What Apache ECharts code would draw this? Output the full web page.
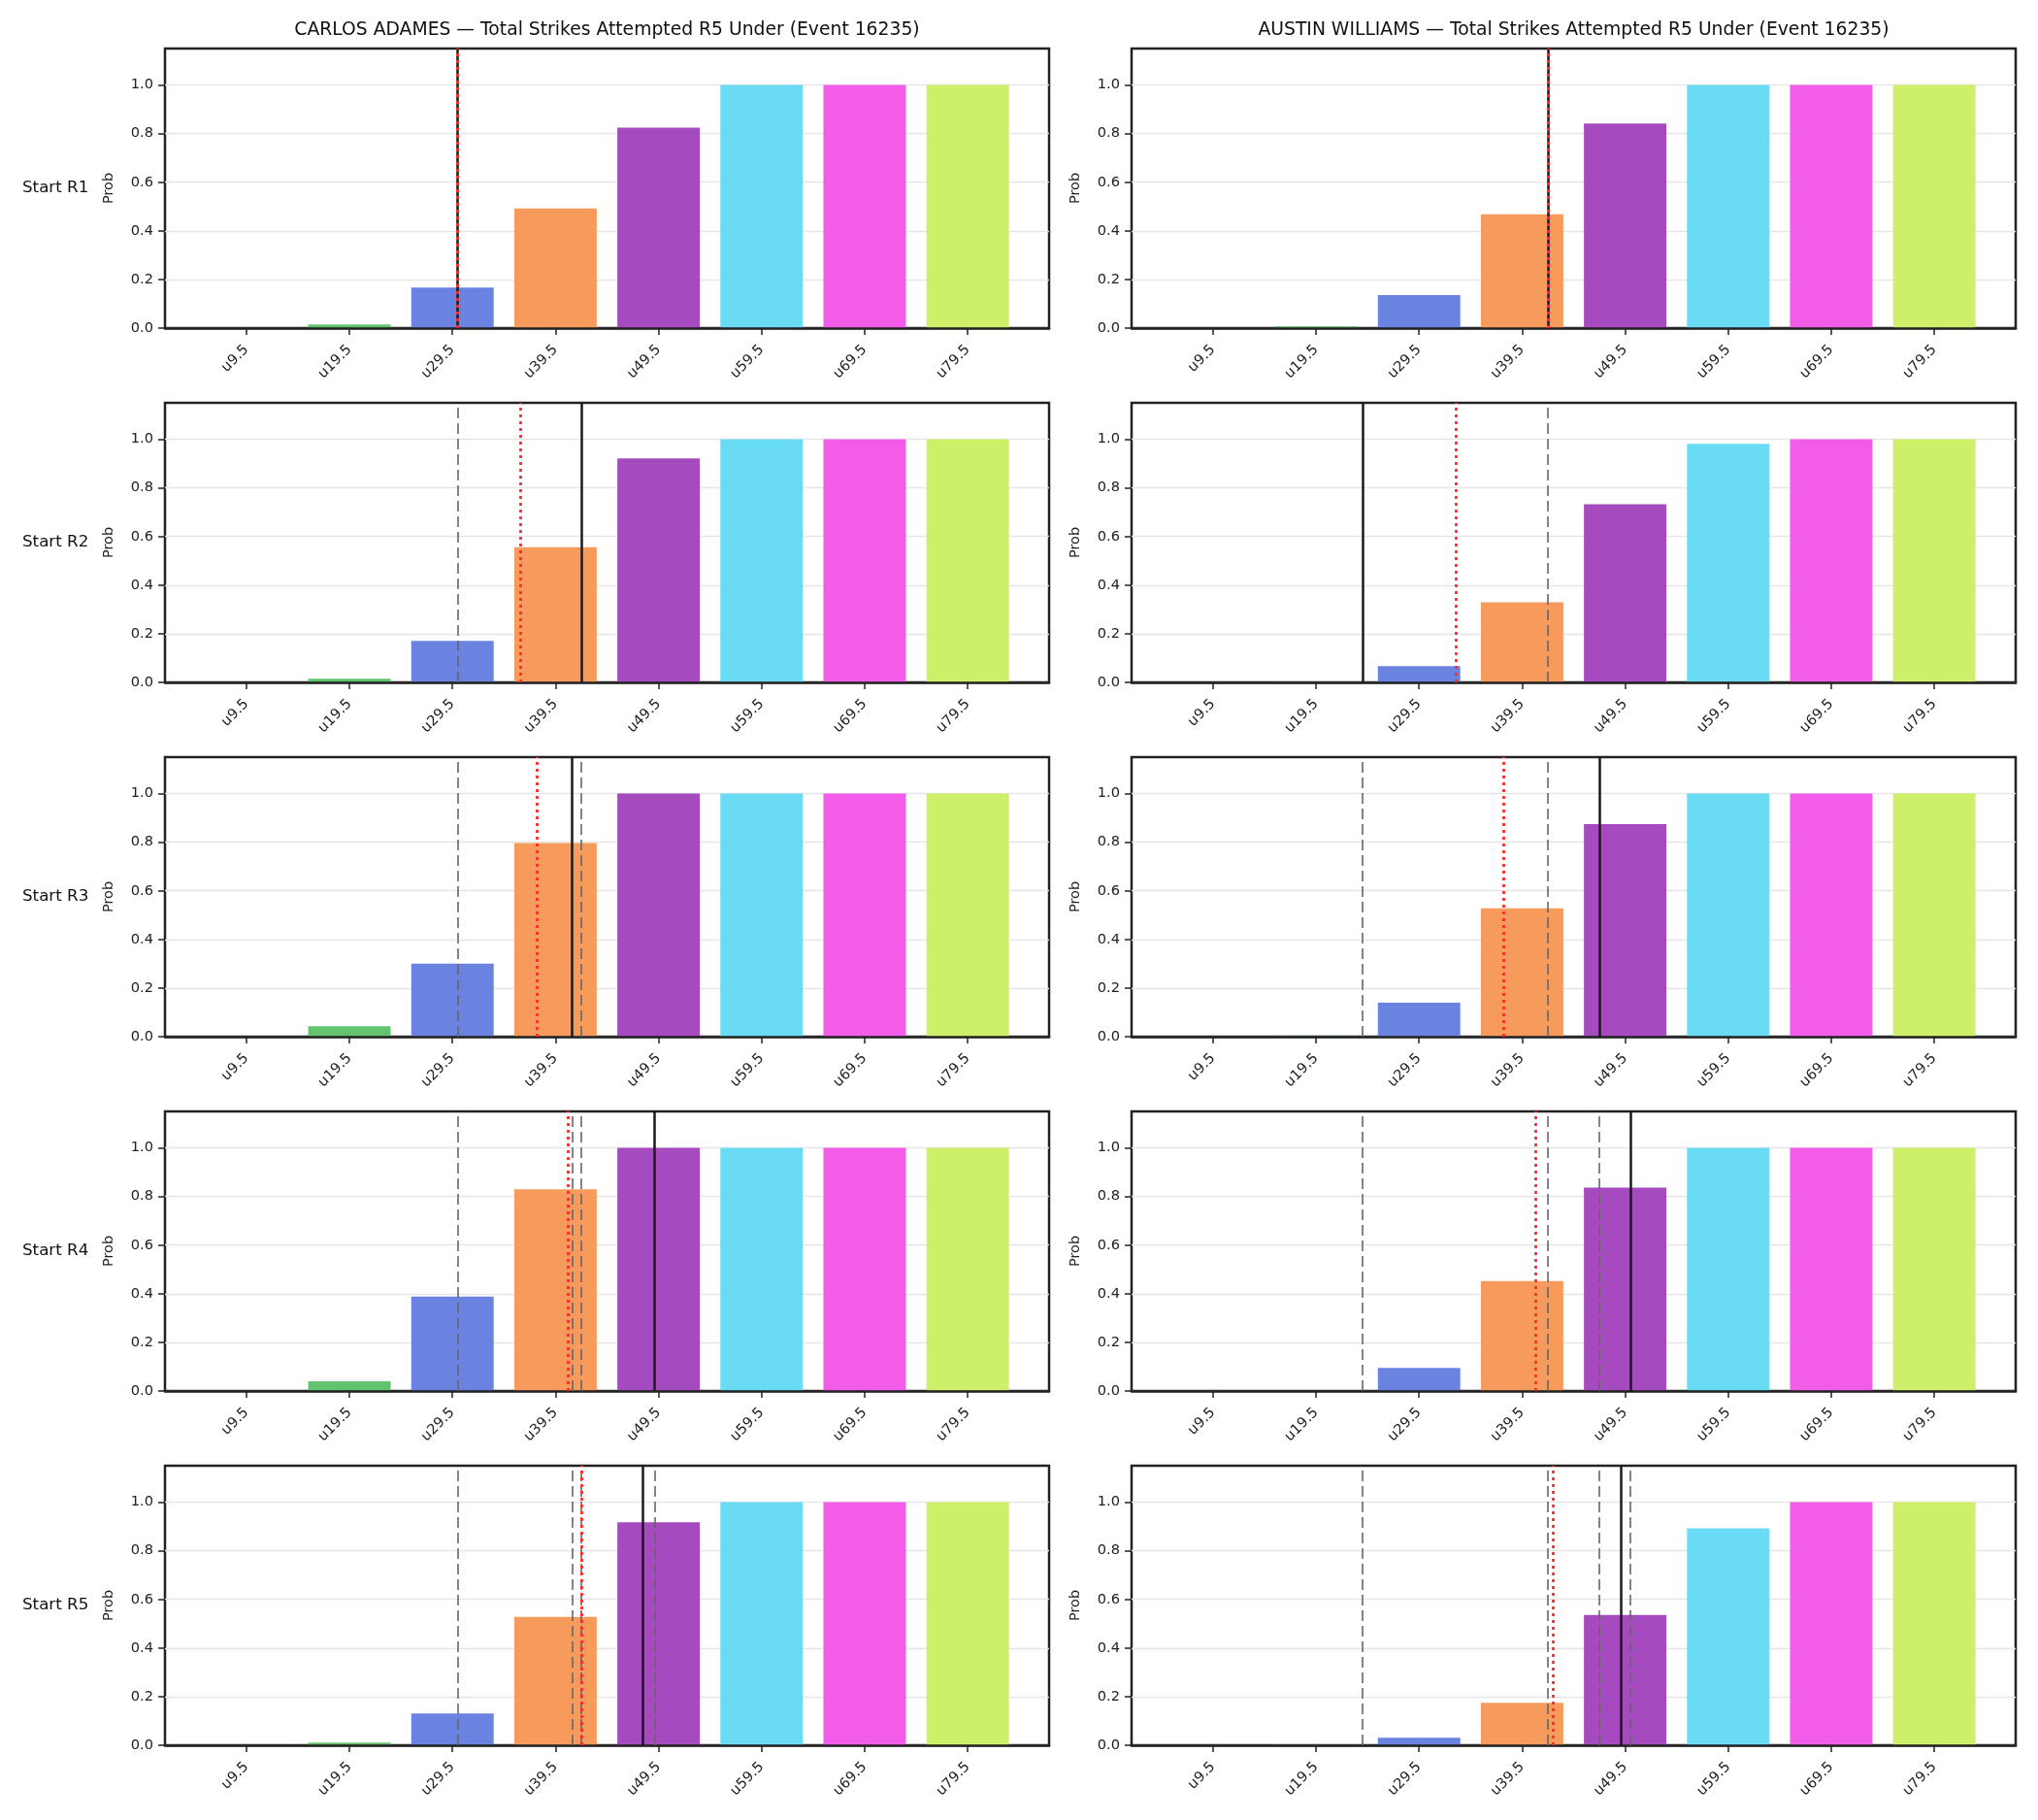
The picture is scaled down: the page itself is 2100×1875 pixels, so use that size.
<!DOCTYPE html>
<html>
<head>
<meta charset="utf-8">
<script src="https://cdn.jsdelivr.net/npm/echarts@6/dist/echarts.min.js"></script>
<style>
  html, body { margin: 0; padding: 0; background: #fff; }
  #chart { width: 2100px; height: 1875px; }
</style>
</head>
<body>
<div id="chart"></div>
<script>
// thresholds on the x axis
var xLabels = ['u9.5', 'u19.5', 'u29.5', 'u39.5', 'u49.5', 'u59.5', 'u69.5', 'u79.5'];
var yTicks = [0, 0.2, 0.4, 0.6, 0.8, 1.0];
var barColors = ['#e8605a', '#62c36e', '#6a82e0', '#f69b5c', '#a64bbf', '#69dbf5', '#f25ce8', '#cdef6a'];

var titles = [
  'CARLOS ADAMES \u2014 Total Strikes Attempted R5 Under (Event 16235)',
  'AUSTIN WILLIAMS \u2014 Total Strikes Attempted R5 Under (Event 16235)'
];
var rowLabels = ['Start R1', 'Start R2', 'Start R3', 'Start R4', 'Start R5'];

// P(under) per threshold, one array per starting round
var carlosProb = [
  [0, 0.015, 0.167, 0.492, 0.825, 1, 1, 1],
  [0, 0.015, 0.171, 0.556, 0.921, 1, 1, 1],
  [0, 0.043, 0.300, 0.797, 1, 1, 1, 1],
  [0, 0.040, 0.388, 0.830, 1, 1, 1, 1],
  [0, 0.011, 0.131, 0.528, 0.917, 1, 1, 1]
];
var austinProb = [
  [0, 0.007, 0.136, 0.468, 0.842, 1, 1, 1],
  [0, 0.001, 0.067, 0.329, 0.733, 0.981, 1, 1],
  [0, 0.002, 0.140, 0.528, 0.874, 1, 1, 1],
  [0, 0, 0.095, 0.452, 0.837, 1, 1, 1],
  [0, 0.002, 0.031, 0.175, 0.536, 0.892, 1, 1]
];

// vertical markers, in x-axis units (0 = u9.5, 1 = u19.5 ...)
var carlosLine = [2.05, 3.25, 3.16, 3.96, 3.85];   // solid black
var carlosMean = [2.05, 2.66, 2.82, 3.115, 3.25];  // red dotted
var austinLine = [3.245, 1.45, 3.75, 4.05, 3.96];
var austinMean = [3.245, 2.36, 2.82, 3.13, 3.30];

var probs = [carlosProb, austinProb];
var lines = [carlosLine, austinLine];
var means = [carlosMean, austinMean];

var font = 'DejaVu Sans';
var plotLeft = [170, 1166];
var plotTop = [50, 415, 780, 1145, 1510];
var plotW = 911, plotH = 288;
var xMin = -0.79, xMax = 7.79;
var barW = 0.8 * plotW / (xMax - xMin);
var xIdx = xLabels.map(function (_, i) { return i; });

var grids = [], xAxes = [], yAxes = [], series = [], graphics = [];

for (var c = 0; c < 2; c++) {
  graphics.push({
    type: 'text', x: plotLeft[c] + plotW / 2, y: 31, silent: true,
    style: { text: titles[c], font: '18.75px "' + font + '"', fill: '#111', textAlign: 'center', textVerticalAlign: 'middle' }
  });
  for (var r = 0; r < 5; r++) {
    var k = grids.length;
    grids.push({
      left: plotLeft[c], top: plotTop[r], width: plotW, height: plotH,
      show: true, borderColor: '#222', borderWidth: 2.5, backgroundColor: '#fff'
    });
    xAxes.push({
      type: 'value', gridIndex: k, min: xMin, max: xMax, z: 3,
      axisLine: { show: true, onZero: false, lineStyle: { color: '#222', width: 2.5 } },
      axisTick: { show: true, customValues: xIdx, length: 7, lineStyle: { color: '#222', width: 1.5 } },
      axisLabel: {
        customValues: xIdx, rotate: 45, margin: 20, fontSize: 14.6, color: '#222', fontFamily: font,
        formatter: function (v) { return xLabels[Math.round(v)]; }
      },
      splitLine: { show: false }
    });
    yAxes.push({
      type: 'value', gridIndex: k, min: 0, max: 1.15, interval: 0.2,
      axisLine: { show: false, onZero: false },
      axisTick: { show: true, customValues: yTicks, length: 7, lineStyle: { color: '#222', width: 1.5 } },
      axisLabel: {
        customValues: yTicks, margin: 12, fontSize: 14.6, color: '#222', fontFamily: font,
        formatter: function (v) { return v.toFixed(1); }
      },
      splitLine: { show: true, lineStyle: { color: '#e6e6e6', width: 1.3 } },
      name: 'Prob', nameLocation: 'middle', nameGap: 50, nameRotate: 90,
      nameTextStyle: { fontSize: 14.5, color: '#222', fontFamily: font }
    });

    var marks = [];
    lines[c].slice(0, r).forEach(function (p) {
      marks.push({ xAxis: p, lineStyle: { color: '#666', width: 1.6, type: [11, 5] } });
    });
    marks.push({ xAxis: lines[c][r], lineStyle: { color: '#1a1a1a', width: 2.5, type: 'solid' } });
    marks.push({ xAxis: means[c][r], lineStyle: { color: '#ff2a2a', width: 2.8, type: [3, 4] } });

    series.push({
      type: 'bar', xAxisIndex: k, yAxisIndex: k, barWidth: barW,
      data: probs[c][r].map(function (v, i) {
        return { value: [i, v], itemStyle: { color: barColors[i] } };
      }),
      markLine: { silent: true, symbol: 'none', animation: false, label: { show: false }, data: marks }
    });

    if (c === 0) {
      graphics.push({
        type: 'text', x: 23, y: plotTop[r] + plotH / 2, silent: true,
        style: { text: rowLabels[r], font: '16.7px "' + font + '"', fill: '#111', textAlign: 'left', textVerticalAlign: 'middle' }
      });
    }
  }
}

var chart = echarts.init(document.getElementById('chart'));
chart.setOption({
  animation: false,
  backgroundColor: '#fff',
  grid: grids,
  xAxis: xAxes,
  yAxis: yAxes,
  series: series,
  graphic: graphics
});
</script>
</body>
</html>
